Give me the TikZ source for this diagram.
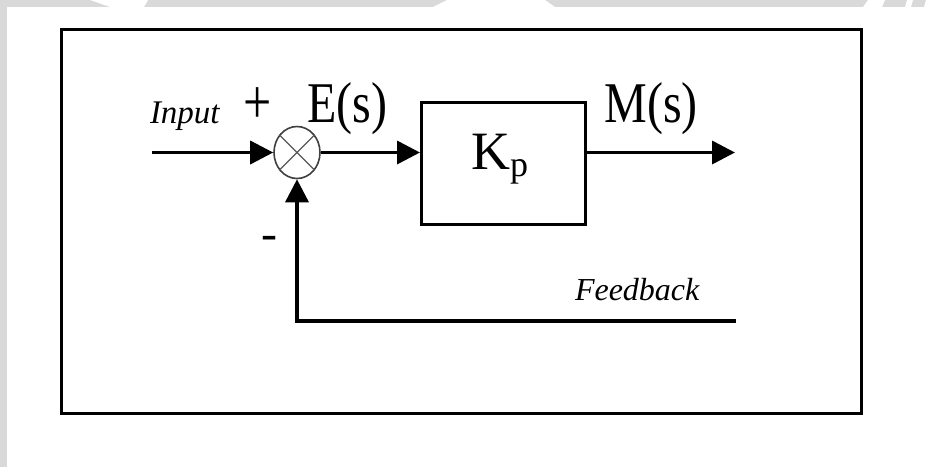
\documentclass[tikz,border=0pt]{standalone}
\usepackage{fontspec}
\usepackage{graphicx}
\setmainfont{Liberation Serif}
\usetikzlibrary{arrows.meta,shapes.geometric}
\definecolor{bggray}{RGB}{217,217,217}
\begin{document}
\begin{tikzpicture}[x=1pt,y=-1pt,
  conn/.style={line width=3.6pt},
  arr/.style={conn,-{Triangle[length=23pt,width=23pt]}},
  lbl/.style={inner sep=0pt,outer sep=0pt},
  blockbox/.style={draw,line width=3pt,inner sep=0pt},
  sumjunc/.style={draw=black!75,line width=1.6pt,ellipse,inner sep=0pt,minimum width=46pt,minimum height=52pt}
]
\useasboundingbox (0,0) rectangle (930,467);
\fill[white] (0,0) rectangle (930,467);
% page background strips
\fill[bggray] (0,0) rectangle (930,7);
\fill[bggray] (0,0) rectangle (7,467);
\fill[white] (90,0) -- (148,0) -- (144,7) -- (110,7) -- cycle;
\fill[white] (447,0) -- (545,0) -- (555,7) -- (433,7) -- cycle;
\fill[white] (868,0) -- (885,0) -- (882,7) -- (863,7) -- cycle;
\fill[white] (907,0) -- (913,0) -- (911,7) -- (905,7) -- cycle;
\fill[white] (926,0) -- (930,0) -- (930,7) -- (924,7) -- cycle;
% frame
\draw[line width=3pt] (61,29.5) rectangle (861.5,413);
% blocks
\node[sumjunc] (sum) at (297,152.5) {};
\draw[black!65,line width=1.4pt] (sum.45) -- (sum.225) (sum.135) -- (sum.315);
\node[blockbox,minimum width=163.5pt,minimum height=122pt] (box) at (503.25,163.5) {};
% connectors
\coordinate (in) at (152,152.5);
\coordinate (out) at (735,152.5);
\coordinate (fb) at (736,321);
\draw[arr] (in) -- (sum.west);
\draw[arr] (sum.east) -- (sum.east -| box.west);
\draw[arr] (sum.east -| box.east) -- (out);
\draw[arr] (fb) -- (sum.south |- fb) -- (sum.south);
% labels
\node[lbl,anchor=base west,font=\fontsize{33}{40}\selectfont\itshape] (input) at (150,123) {Input};
\node[lbl,anchor=center,font=\fontsize{50}{60}\selectfont] (plus) at (257.5,106) {\scalebox{1}[1.27]{+}};
\node[lbl,anchor=base,font=\fontsize{48}{56}\selectfont] (minus) at (269.5,249) {-};
\node[lbl,anchor=base west,font=\fontsize{48}{56}\selectfont] (es) at (307.5,122) {\scalebox{1}[1.2]{E(s)}};
\node[lbl,anchor=base west,font=\fontsize{48}{56}\selectfont] (ms) at (604.5,122) {\scalebox{1}[1.2]{M(s)}};
\node[lbl,anchor=base west,font=\fontsize{54}{60}\selectfont] (kp) at (471.2,169) {K\raisebox{-7.5pt}{\fontsize{36}{40}\selectfont p}};
\node[lbl,anchor=base west,font=\fontsize{32}{38}\selectfont\itshape] (fbl) at (575,300) {Feedback};
\end{tikzpicture}
\end{document}
